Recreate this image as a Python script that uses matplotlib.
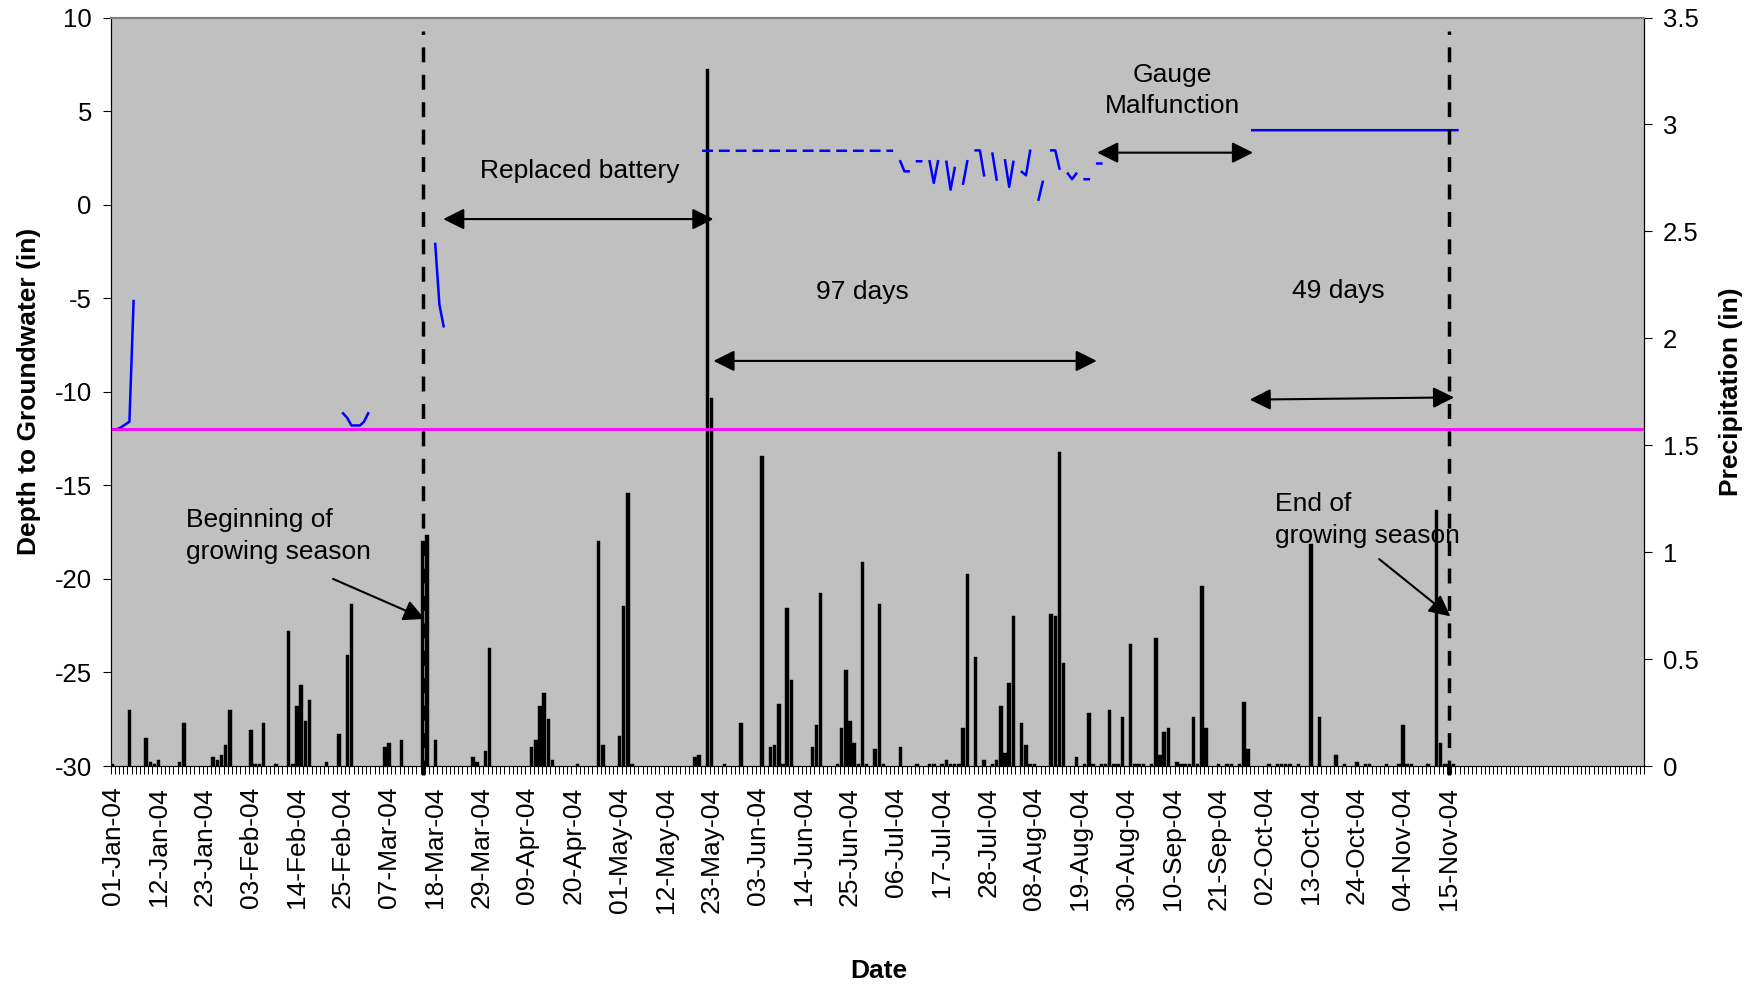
import numpy as np
import matplotlib
matplotlib.use('Agg')
import matplotlib.pyplot as plt

plt.rcParams['font.family'] = ['Liberation Sans', 'DejaVu Sans']
plt.rcParams['axes.unicode_minus'] = False

# 2004 = 366 daily categories, a date label every 11 days
n_days = 366
label_step = 11
date_labels = ['01-Jan-04', '12-Jan-04', '23-Jan-04', '03-Feb-04', '14-Feb-04',
               '25-Feb-04', '07-Mar-04', '18-Mar-04', '29-Mar-04', '09-Apr-04',
               '20-Apr-04', '01-May-04', '12-May-04', '23-May-04', '03-Jun-04',
               '14-Jun-04', '25-Jun-04', '06-Jul-04', '17-Jul-04', '28-Jul-04',
               '08-Aug-04', '19-Aug-04', '30-Aug-04', '10-Sep-04', '21-Sep-04',
               '02-Oct-04', '13-Oct-04', '24-Oct-04', '04-Nov-04', '15-Nov-04']

# daily precipitation (in), day index from 01-Jan
rain_days = [0, 4, 8, 9, 10, 11, 16, 17, 24, 25, 26, 27, 28, 33, 34, 35, 36, 39,
             42, 43, 44, 45, 46, 47, 51, 54, 56, 57, 65, 66, 69, 74, 75, 77, 86,
             87, 89, 90, 100, 101, 102, 103, 104, 105, 111, 116, 117, 121, 122,
             123, 124, 139, 140, 142, 143, 146, 150, 155, 157, 158, 159, 160,
             161, 162, 167, 168, 169, 173, 174, 175, 176, 177, 178, 179, 180,
             182, 183, 184, 188, 192, 195, 196, 198, 199, 200, 201, 202, 203,
             204, 206, 208, 210, 211, 212, 213, 214, 215, 217, 218, 219, 220,
             224, 225, 226, 227, 230, 232, 233, 234, 236, 237, 238, 239, 240,
             241, 243, 244, 245, 246, 248, 249, 250, 251, 252, 254, 255, 256,
             257, 258, 259, 260, 261, 264, 266, 267, 269, 270, 271, 276, 278,
             279, 280, 281, 283, 286, 288, 292, 294, 297, 299, 300, 304, 307,
             308, 309, 310, 314, 316, 317, 318, 319, 320]
rain_in = [0.01, 0.26, 0.13, 0.02, 0.01, 0.03, 0.02, 0.20, 0.04, 0.03, 0.05, 0.10,
           0.26, 0.17, 0.01, 0.01, 0.20, 0.01, 0.63, 0.01, 0.28, 0.38, 0.21, 0.31,
           0.02, 0.15, 0.52, 0.76, 0.09, 0.11, 0.12, 1.05, 1.08, 0.12, 0.04, 0.02,
           0.07, 0.55, 0.09, 0.12, 0.28, 0.34, 0.22, 0.03, 0.01, 1.05, 0.10, 0.14,
           0.75, 1.275, 0.01, 0.04, 0.05, 3.26, 1.72, 0.01, 0.20, 1.45, 0.09, 0.10,
           0.29, 0.01, 0.74, 0.40, 0.09, 0.19, 0.81, 0.01, 0.18, 0.45, 0.21, 0.11,
           0.01, 0.955, 0.01, 0.08, 0.76, 0.01, 0.09, 0.01, 0.01, 0.01, 0.01, 0.03,
           0.01, 0.01, 0.01, 0.18, 0.90, 0.51, 0.03, 0.01, 0.03, 0.28, 0.06, 0.39,
           0.70, 0.20, 0.10, 0.01, 0.01, 0.71, 0.70, 1.47, 0.48, 0.04, 0.01, 0.25,
           0.01, 0.01, 0.01, 0.26, 0.01, 0.01, 0.23, 0.57, 0.01, 0.01, 0.01, 0.01,
           0.60, 0.05, 0.16, 0.18, 0.02, 0.01, 0.01, 0.01, 0.23, 0.01, 0.84, 0.18,
           0.01, 0.01, 0.01, 0.01, 0.30, 0.08, 0.01, 0.01, 0.01, 0.01, 0.01, 0.01,
           1.04, 0.23, 0.05, 0.01, 0.02, 0.01, 0.01, 0.01, 0.01, 0.19, 0.01, 0.01,
           0.01, 1.195, 0.11, 0.01, 0.01, 0.01]

# depth to groundwater (in); days not listed are missing readings
gw_days = [0, 1, 2, 3, 4, 5,
           55, 56, 57, 58, 59, 60, 61,
           77, 78, 79,
           141, 142, 143, 145, 146, 147, 149, 150, 151, 153, 154, 155,
           157, 158, 159, 161, 162, 163, 165, 166, 167, 169, 170, 171,
           173, 174, 175, 177, 178, 179, 181, 182, 183, 185, 186,
           188, 189, 190, 192, 193, 195, 196, 197, 199, 200, 201, 203, 204,
           206, 207, 208, 210, 211, 213, 214, 215, 217, 218, 219, 221, 222,
           224, 225, 226, 228, 229, 230, 232, 233, 235, 236,
           272, 273, 274, 275, 276, 277, 278, 279, 280, 281, 282, 283, 284,
           285, 286, 287, 288, 289, 290, 291, 292, 293, 294, 295, 296, 297,
           298, 299, 300, 301, 302, 303, 304, 305, 306, 307, 308, 309, 310,
           311, 312, 313, 314, 315, 316, 317, 318, 319, 320, 321]
gw_depth = [-12, -12, -11.9, -11.75, -11.6, -5.15,
            -11.15, -11.4, -11.8, -11.8, -11.8, -11.6, -11.15,
            -2.1, -5.35, -6.5,
            2.88, 2.88, 2.88, 2.88, 2.88, 2.88, 2.88, 2.88, 2.88, 2.88, 2.88, 2.88,
            2.88, 2.88, 2.88, 2.88, 2.88, 2.88, 2.88, 2.88, 2.88, 2.88, 2.88, 2.88,
            2.88, 2.88, 2.88, 2.88, 2.88, 2.88, 2.88, 2.88, 2.88, 2.88, 2.88,
            2.32, 1.78, 1.78, 2.32, 2.32, 2.32, 1.16, 2.32, 2.29, 0.80, 1.96, 1.12, 2.32,
            2.90, 2.90, 1.57, 2.73, 1.34, 2.37, 0.95, 2.29, 1.75, 1.57, 2.88, 0.27, 1.22,
            2.90, 2.90, 1.93, 1.66, 1.36, 1.66, 1.36, 1.36, 2.20, 2.20,
            3.98, 3.98, 3.98, 3.98, 3.98, 3.98, 3.98, 3.98, 3.98, 3.98, 3.98, 3.98, 3.98,
            3.98, 3.98, 3.98, 3.98, 3.98, 3.98, 3.98, 3.98, 3.98, 3.98, 3.98, 3.98, 3.98,
            3.98, 3.98, 3.98, 3.98, 3.98, 3.98, 3.98, 3.98, 3.98, 3.98, 3.98, 3.98, 3.98,
            3.98, 3.98, 3.98, 3.98, 3.98, 3.98, 3.98, 3.98, 3.98, 3.98, 3.98]

threshold = -12
season_start = 74   # 15-Mar
season_end = 319    # 15-Nov

fig = plt.figure(figsize=(17.55, 9.85), dpi=100)
ax = fig.add_axes([0.063, 0.2223, 0.8737, 0.7599])
ax2 = ax.twinx()
ax.set_zorder(ax2.get_zorder() + 1)
ax.patch.set_visible(False)
ax2.patch.set_visible(True)
ax2.patch.set_facecolor('#C0C0C0')

# precipitation bars on right axis
ax2.bar(rain_days, rain_in, width=0.82, color='black', edgecolor='black', linewidth=0.3)
ax2.set_ylim(0, 3.5)
ax2.set_yticks(np.arange(0, 3.51, 0.5))
ax2.set_yticklabels(['0', '0.5', '1', '1.5', '2', '2.5', '3', '3.5'])
ax2.tick_params(axis='y', labelsize=18.5, length=5.5, width=0.8, pad=8)
ax2.set_ylabel('Precipitation (in)', fontsize=19, fontweight='bold', rotation=90)
ax2.yaxis.set_label_coords(1.049, 0.5)

# groundwater line
depth = np.full(n_days, np.nan)
depth[gw_days] = gw_depth
ax.plot(np.arange(n_days), depth, color='#0000FF', lw=1.8)
ax.axhline(threshold, color='#FF00FF', lw=2)

for d in (season_start, season_end):
    ax.axvline(d, ymin=-0.012, ymax=0.982, color='black', lw=2.5,
               dashes=(4.3, 3.6), clip_on=False)

ax.set_xlim(-0.5, n_days - 0.5)
ax.set_ylim(-30, 10)
ax.set_yticks(np.arange(-30, 11, 5))
ax.tick_params(axis='y', labelsize=18.5, length=5.5, width=0.8, pad=8)
ax.set_xticks(np.arange(len(date_labels)) * label_step)
ax.set_xticklabels(date_labels, rotation=90, fontsize=19)
ax.set_xticks(np.arange(-0.5, n_days, 1), minor=True)
ax.tick_params(axis='x', which='major', length=0, pad=15)
ax.tick_params(axis='x', which='minor', length=5.5, width=0.7)
ax.set_ylabel('Depth to Groundwater (in)', fontsize=19, fontweight='bold')
ax.yaxis.set_label_coords(-0.0455, 0.5)
ax.set_xlabel('Date', fontsize=19, fontweight='bold')
ax.xaxis.set_label_coords(0.501, -0.258)

for a in (ax, ax2):
    a.spines['top'].set_color('#808080')
    a.spines['top'].set_linewidth(1.5)

# annotations
single = dict(arrowstyle='-|>', color='black', lw=1.5, mutation_scale=32,
              shrinkA=0, shrinkB=0)
double = dict(arrowstyle='<|-|>', color='black', lw=1.5, mutation_scale=32,
              shrinkA=0, shrinkB=0)

ax.text(17.4, -17.7, 'Beginning of\ngrowing season', ha='left', va='center',
        fontsize=19, linespacing=1.4)
ax.annotate('', xy=(74.5, -22.14), xytext=(52.6, -20.0), arrowprops=single)

ax.text(111.4, 1.82, 'Replaced battery', ha='center', va='center', fontsize=19)
ax.annotate('', xy=(143.4, -0.77), xytext=(78.9, -0.77), arrowprops=double)

ax.text(179.0, -4.65, '97 days', ha='center', va='center', fontsize=19)
ax.annotate('', xy=(234.9, -8.35), xytext=(143.4, -8.35), arrowprops=double)

ax.text(253.0, 6.1, 'Gauge\nMalfunction', ha='center', va='center',
        fontsize=19, linespacing=1.4)
ax.annotate('', xy=(272.2, 2.78), xytext=(235.0, 2.78), arrowprops=double)

ax.text(292.6, -4.6, '49 days', ha='center', va='center', fontsize=19)
ax.annotate('', xy=(320.2, -10.3), xytext=(271.4, -10.42), arrowprops=double)

ax.text(277.4, -16.85, 'End of\ngrowing season', ha='left', va='center',
        fontsize=19, linespacing=1.4)
ax.annotate('', xy=(319.3, -22.0), xytext=(302.3, -18.94), arrowprops=single)

fig.savefig('out.png', dpi=100)
